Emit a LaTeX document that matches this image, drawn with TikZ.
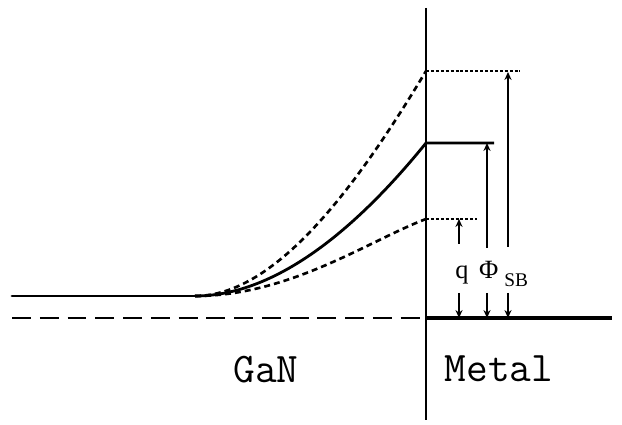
\documentclass[tikz,border=0pt]{standalone}
\usepackage{fontspec}
\newfontfamily\labelfont{Liberation Serif}
\usetikzlibrary{arrows.meta}

\begin{document}
\begin{tikzpicture}[
    x=0.02cm, y=-0.02cm,
    >={Stealth[length=4.5pt,width=4pt]},
    band/.style={line width=1.6pt},
    shifted/.style={line width=1.5pt, dash pattern=on 3.4pt off 2.3pt},
    level/.style={line width=0.9pt, dash pattern=on 1.7pt off 1.1pt},
    height/.style={line width=0.8pt},
    region/.style={font=\ttfamily\fontsize{24}{28}\selectfont},
  ]
  \useasboundingbox (0,0) rectangle (622,425);

  % interface and Fermi level
  \coordinate (top) at (426,8);
  \coordinate (bottom) at (426,420);
  \coordinate (ef left) at (12,318);
  \coordinate (ef) at (426,318);
  \coordinate (ef right) at (612,318);
  \draw[line width=0.8pt] (top) -- (bottom);
  \draw[line width=0.9pt, dash pattern=on 10.8pt off 5pt] (ef left) -- (ef);
  \draw[line width=2.8pt] (ef) -- (ef right);

  % conduction band, nominal and shifted
  \coordinate (flat) at (12,296);
  \coordinate (bend) at (195,296);
  \coordinate (peak) at (426,143);
  \coordinate (peak hi) at (426,71);
  \coordinate (peak lo) at (426,219);
  \coordinate (mid end) at (494,143);
  \coordinate (hi end) at (520,71);
  \coordinate (lo end) at (477,219);
  \draw[band, line cap=round] (flat) -- (bend);
  \draw[band] (bend) .. controls (280,296) and (362,222) .. (peak) -- (mid end);
  \draw[shifted] (bend) .. controls (276,296) and (357,186) .. (peak hi);
  \draw[shifted] (bend) .. controls (290,296) and (370,240) .. (peak lo);
  \draw[level] (peak hi) -- (hi end);
  \draw[level] (peak lo) -- (lo end);

  % barrier heights
  \foreach \name/\x/\y/\top in {lo/459/244/219, mid/487/248/143, hi/508/247/72} {
    \coordinate (\name up) at (\x,\y);
    \coordinate (\name cap) at (\x,\top);
    \coordinate (\name dn) at (\x,293);
    \coordinate (\name base) at (\x,318);
    \draw[->, height] (\name up) -- (\name cap);
    \draw[->, height] (\name dn) -- (\name base);
  }
  \node[anchor=base west, inner sep=0, font=\labelfont\fontsize{15}{18}\selectfont]
    (barrier) at (455,279) {q\hspace{6pt}Φ\hspace{3.5pt}\raisebox{-4pt}{\fontsize{11}{13}\selectfont SB}};

  \node[region] (gan) at (266,370) {GaN};
  \node[region] (metal) at (499,369) {Metal};
\end{tikzpicture}
\end{document}
